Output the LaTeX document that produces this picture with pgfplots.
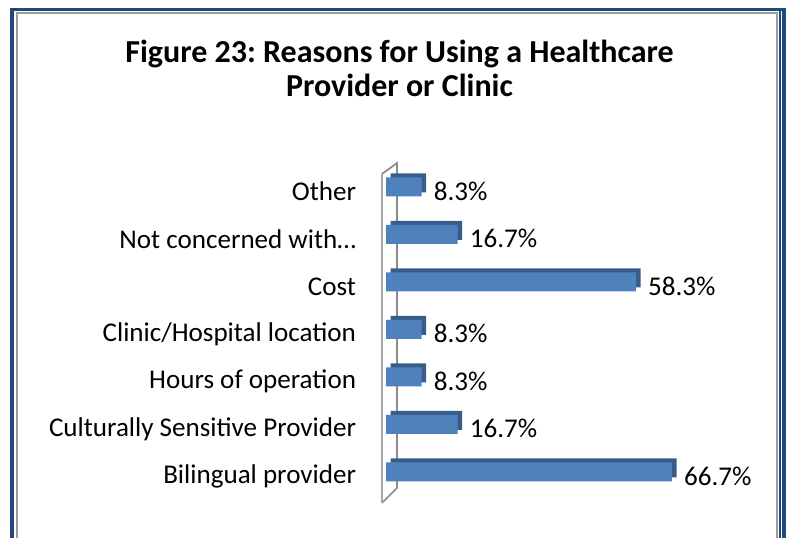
\documentclass[border=0pt]{standalone}
\usepackage{fontspec}
\setmainfont{Carlito}
\usepackage{pgfplots}
\pgfplotsset{compat=1.18}
\frenchspacing

\definecolor{barfront}{HTML}{4F81BD}
\definecolor{bardepth}{HTML}{385D8A}
\definecolor{frameblue}{HTML}{1F497D}
\definecolor{framegray}{HTML}{9C9C9C}
\definecolor{wallgray}{HTML}{A6A6A6}
\definecolor{wallback}{HTML}{8C8C8C}

\pgfplotstableread[col sep=comma]{
pos,value
0,66.7
1,16.7
2,8.3
3,8.3
4,58.3
5,16.7
6,8.3
}\reasons

\begin{document}
\begin{tikzpicture}[x=0.75pt,y=0.75pt]
% canvas in pixels, y counted from the bottom (538 - y_top)
\path (0,0) rectangle (787,538);

% frame
\draw[frameblue, line width=2.4pt] (12,0) -- (12,528.5) -- (784,528.5) -- (784,0);
\draw[frameblue, line width=2.2pt] (780,0) -- (780,527);
\draw[framegray, line width=2.2pt] (17,0) -- (17,525) -- (777,525) -- (777,0);

% title
\node[font=\bfseries\fontsize{24}{28}\selectfont, anchor=base]
  at (399.5,475) {Figure 23: Reasons for Using a Healthcare};
\node[font=\bfseries\fontsize{24}{28}\selectfont, anchor=base]
  at (399.5,441) {Provider or Clinic};

% 3-D wall
\draw[wallback, line width=1.3pt] (382,364) -- (397,375) -- (397,50) -- (382,35);
\draw[wallgray, line width=2.2pt] (382,364) -- (382,35);

\begin{axis}[
  at={(289.5pt,31.7pt)}, anchor=south west,
  scale only axis, width=225pt, height=249.4pt,
  xbar, bar width=14.25pt,
  xmin=0, xmax=70, ymin=-0.5, ymax=6.5,
  axis line style={draw=none}, tick style={draw=none},
  xtick=\empty, ytick={0,...,6},
  yticklabels={Bilingual provider, Culturally Sensitive Provider,
    Hours of operation, Clinic/Hospital location, Cost,
    Not concerned with…, Other},
  yticklabel style={font=\fontsize{20.3}{24}\selectfont, anchor=east,
    inner sep=0pt, xshift=-18pt, yshift=-3.5pt},
  /pgf/number format/assume math mode=true,
  clip=false,
]
\addplot[fill=bardepth, draw=none, bar shift=3pt, xshift=3.5pt, forget plot]
  table[x=value, y=pos] {\reasons};
\addplot[fill=barfront, draw=none,
  nodes near coords={\pgfmathprintnumber[fixed,precision=1,fixed zerofill]{\pgfplotspointmeta}\%},
  point meta=x,
  every node near coord/.style={font=\fontsize{20.3}{24}\selectfont, anchor=west,
    inner sep=0pt, xshift=9pt, yshift=-3pt, text=black}]
  table[x=value, y=pos] {\reasons};
\end{axis}
\end{tikzpicture}
\end{document}
